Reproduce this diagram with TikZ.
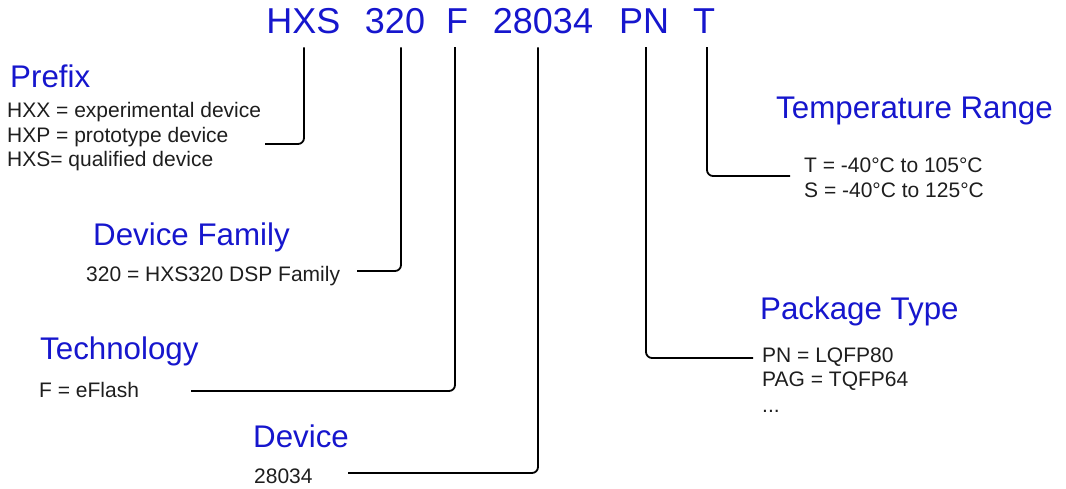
\documentclass[tikz,border=0pt]{standalone}
\usepackage{fontspec}
\setmainfont{Liberation Sans}
\definecolor{tblue}{RGB}{22,22,205}
\definecolor{ttext}{RGB}{30,30,30}
\begin{document}
\begin{tikzpicture}[x=1pt,y=-1pt,
  code/.style={font=\fontsize{36}{36}\selectfont, text=tblue, anchor=base, inner xsep=0pt, inner ysep=14pt, outer sep=0pt},
  head/.style={font=\fontsize{31.3}{31.3}\selectfont, text=tblue, anchor=base west, inner sep=0pt},
  desc/.style={font=\fontsize{21}{24}\selectfont, text=ttext, anchor=base west, inner sep=0pt},
  conn/.style={line width=1.8pt, rounded corners=6pt, draw=black}]
\path[use as bounding box] (0,0) rectangle (1066,488);
% code parts
\node[code] (hxs) at (303.5,33) {HXS};
\node[code] (n320) at (395,33) {320};
\node[code] (nf) at (457,33) {F};
\node[code] (n28034) at (543,33) {28034};
\node[code] (npn) at (644,33) {PN};
\node[code] (nt) at (704,33) {T};
% prefix
\node[head] (prefix) at (10,87) {Prefix};
\node[desc] (p1) at (7,117.5) {HXX = experimental device};
\node[desc] (p2) at (7,142) {HXP = prototype device};
\node[desc] (p3) at (7,166.5) {HXS= qualified device};
% family
\node[head] (family) at (93,245) {Device Family};
\node[desc] (f1) at (86,281) {320 = HXS320 DSP Family};
% technology
\node[head] (tech) at (40,359) {Technology};
\node[desc] (t1) at (39,397) {F = eFlash};
% device
\node[head] (device) at (253,447) {Device};
\node[desc] (d1) at (254,483) {28034};
% package
\node[head] (pkg) at (760,319) {Package Type};
\node[desc] (k1) at (762,362) {PN = LQFP80};
\node[desc] (k2) at (762,386) {PAG = TQFP64};
\node[desc] (k3) at (762,412) {...};
% temperature
\node[head] (temp) at (776,118) {Temperature Range};
\node[desc] (r1) at (804,172) {T = -40°C to 105°C};
\node[desc] (r2) at (804,197) {S = -40°C to 125°C};
% connector ends
\coordinate (eprefix) at (265,144);
\coordinate (efamily) at (357,271);
\coordinate (etech) at (191,391);
\coordinate (edevice) at (348,473);
\coordinate (epkg) at (753,358);
\coordinate (etemp) at (790,176);
% connectors
\draw[conn] ([xshift=0.5pt]hxs.south) |- (eprefix);
\draw[conn] ([xshift=6pt]n320.south) |- (efamily);
\draw[conn] ([xshift=-2pt]nf.south) |- (etech);
\draw[conn] ([xshift=-5pt]n28034.south) |- (edevice);
\draw[conn] ([xshift=2pt]npn.south) |- (epkg);
\draw[conn] ([xshift=3pt]nt.south) |- (etemp);
\end{tikzpicture}
\end{document}
